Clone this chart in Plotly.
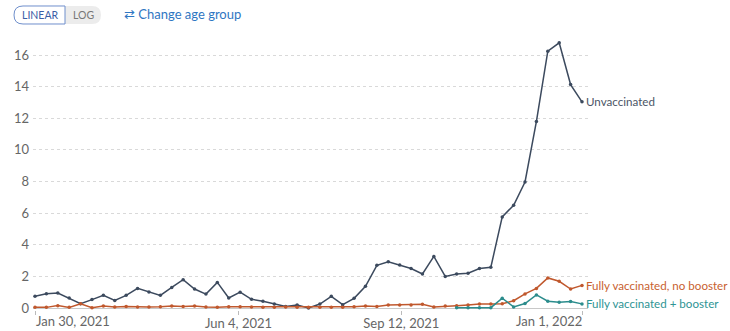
import plotly.graph_objects as go
import pandas as pd

# ---- data ----
dates = pd.date_range("2021-01-30", "2022-01-01", freq="7D")

unvaccinated = [0.74, 0.9, 0.95, 0.63, 0.27, 0.53, 0.8, 0.48, 0.8, 1.24,
                1.01, 0.8, 1.3, 1.79, 1.2, 0.88, 1.62, 0.63, 1.0, 0.55,
                0.42, 0.25, 0.1, 0.19, 0.0, 0.25, 0.74, 0.21, 0.61, 1.37,
                2.7, 2.93, 2.72, 2.5, 2.15, 3.26, 2.0, 2.15, 2.2, 2.5,
                2.58, 5.76, 6.5, 7.97, 11.8, 16.24, 16.77, 14.13, 13.04]

no_booster = [0.04, 0.04, 0.15, 0.04, 0.27, 0.02, 0.12, 0.06, 0.1, 0.06,
              0.06, 0.08, 0.12, 0.1, 0.12, 0.06, 0.04, 0.08, 0.08, 0.06,
              0.05, 0.05, 0.06, 0.04, 0.04, 0.05, 0.05, 0.05, 0.08, 0.12,
              0.1, 0.19, 0.19, 0.19, 0.23, 0.06, 0.12, 0.14, 0.19, 0.25,
              0.26, 0.27, 0.46, 0.89, 1.24, 1.9, 1.69, 1.2, 1.43]

with_booster = [None] * 37 + [0.02, 0.02, 0.02, 0.02,
                              0.62, 0.07, 0.28, 0.83, 0.43, 0.37, 0.41, 0.26]

series_names = ["Unvaccinated", "Fully vaccinated, no booster", "Fully vaccinated + booster"]
series_values = [unvaccinated, no_booster, with_booster]
series_colors = ["#3c4a5e", "#c0582d", "#2b8c8c"]
label_colors = ["#4b5566", "#c8612f", "#2e9494"]

y_ticks = [0, 2, 4, 6, 8, 10, 12, 14, 16]
x_tick_vals = ["2021-01-30", "2021-06-04", "2021-09-12", "2022-01-01"]
x_tick_text = ["Jan 30, 2021", "Jun 4, 2021", "Sep 12, 2021", "Jan 1, 2022"]

# ---- layout geometry ----
W, H = 730, 331
ML, MR, MT, MB = 33, 142, 40, 21
PW, PH = W - ML - MR, H - MT - MB

FONT = "Lato, 'Open Sans', sans-serif"

fig = go.Figure()
for name, vals, col in zip(series_names, series_values, series_colors):
    fig.add_trace(go.Scatter(
        x=dates, y=vals, name=name, mode="lines+markers",
        line=dict(color=col, width=1.5),
        marker=dict(color=col, size=3.5),
        cliponaxis=False, connectgaps=False, showlegend=False,
    ))

# end-of-line labels
for name, vals, col in zip(series_names, series_values, label_colors):
    fig.add_annotation(x=dates[-1], y=vals[-1], text=name, showarrow=False,
                       xanchor="left", yanchor="middle", xshift=2,
                       font=dict(family=FONT, size=11.6, color=col))

# x tick labels for first/last (aligned to the edges)
fig.add_annotation(x=x_tick_vals[0], y=0, yref="paper", text=x_tick_text[0],
                   showarrow=False, xanchor="left", yanchor="top", xshift=-1, yshift=-1,
                   font=dict(family=FONT, size=13, color="#666"))
fig.add_annotation(x=x_tick_vals[-1], y=0, yref="paper", text=x_tick_text[-1],
                   showarrow=False, xanchor="right", yanchor="top", xshift=2, yshift=-1,
                   font=dict(family=FONT, size=13, color="#666"))


def px2paper(px, py):
    return (px - ML) / PW, (H - MB - py) / PH


def rounded_path(x0, y0, x1, y1, r, left=True, right=True):
    def P(x, y):
        a, b = px2paper(x, y)
        return f"{a:.5f},{b:.5f}"
    d = []
    d.append(f"M{P(x0 + r, y0)}" if left else f"M{P(x0, y0)}")
    if right:
        d.append(f"L{P(x1 - r, y0)}")
        d.append(f"Q{P(x1, y0)} {P(x1, y0 + r)}")
        d.append(f"L{P(x1, y1 - r)}")
        d.append(f"Q{P(x1, y1)} {P(x1 - r, y1)}")
    else:
        d.append(f"L{P(x1, y0)}")
        d.append(f"L{P(x1, y1)}")
    if left:
        d.append(f"L{P(x0 + r, y1)}")
        d.append(f"Q{P(x0, y1)} {P(x0, y1 - r)}")
        d.append(f"L{P(x0, y0 + r)}")
        d.append(f"Q{P(x0, y0)} {P(x0 + r, y0)}")
    else:
        d.append(f"L{P(x0, y1)}")
    d.append("Z")
    return " ".join(d)


# LINEAR / LOG toggle
fig.add_shape(type="path", xref="paper", yref="paper",
              path=rounded_path(14, 6, 101, 24, 9),
              fillcolor="#ececec", line=dict(width=0), layer="above")
fig.add_shape(type="path", xref="paper", yref="paper",
              path=rounded_path(14, 6, 65, 24, 9, left=True, right=False),
              fillcolor="#ffffff", line=dict(color="#6f8fcc", width=1), layer="above")
bx, by = px2paper(40, 15)
fig.add_annotation(x=bx, y=by, xref="paper", yref="paper", text="LINEAR", showarrow=False,
                   xanchor="center", yanchor="middle",
                   font=dict(family=FONT, size=10.5, color="#3a5ea6"))
bx, by = px2paper(83, 15)
fig.add_annotation(x=bx, y=by, xref="paper", yref="paper", text="LOG", showarrow=False,
                   xanchor="center", yanchor="middle",
                   font=dict(family=FONT, size=10.5, color="#777"))
bx, by = px2paper(122, 14)
fig.add_annotation(x=bx, y=by, xref="paper", yref="paper",
                   text="⇄ Change age group", showarrow=False,
                   xanchor="left", yanchor="middle",
                   font=dict(family=FONT, size=13, color="#2f76c2"))

# axis ranges
px_per_day = PW / (336 + 8.0 / 1.628)
x_start = pd.Timestamp("2021-01-30") - pd.Timedelta(days=2 / px_per_day)
x_end = pd.Timestamp("2022-01-01") + pd.Timedelta(days=6 / px_per_day)
zero_py = 308
px_per_unit = (308 - 55) / 16
y_top = (zero_py - MT) / px_per_unit
y_bot = -((H - MB) - zero_py) / px_per_unit

fig.update_layout(
    width=W, height=H,
    margin=dict(l=ML, r=MR, t=MT, b=MB, autoexpand=False),
    paper_bgcolor="white", plot_bgcolor="white",
    font=dict(family=FONT, size=13, color="#666"),
    hovermode=False,
    xaxis=dict(
        range=[x_start, x_end], showgrid=False, zeroline=False,
        showline=False, automargin=False,
        tickmode="array", tickvals=x_tick_vals,
        ticktext=["", x_tick_text[1], x_tick_text[2], ""],
        ticks="outside", ticklen=4, tickcolor="#bbb", tickwidth=1,
        ticklabelstandoff=-3,
        tickfont=dict(family=FONT, size=13, color="#666"),
    ),
    yaxis=dict(
        range=[y_bot, y_top], tickmode="array", tickvals=y_ticks,
        showgrid=True, gridcolor="#d9d9d9", griddash="dot", gridwidth=1,
        zeroline=True, zerolinecolor="#c8c8c8", zerolinewidth=1,
        showline=False, ticks="", ticklabelstandoff=3, automargin=False,
        tickfont=dict(family=FONT, size=13, color="#666"),
    ),
)

fig.write_html(
    "out.html",
    config={"displayModeBar": False},
    post_script="document.body.style.margin='0';document.body.style.overflow='hidden';",
)
